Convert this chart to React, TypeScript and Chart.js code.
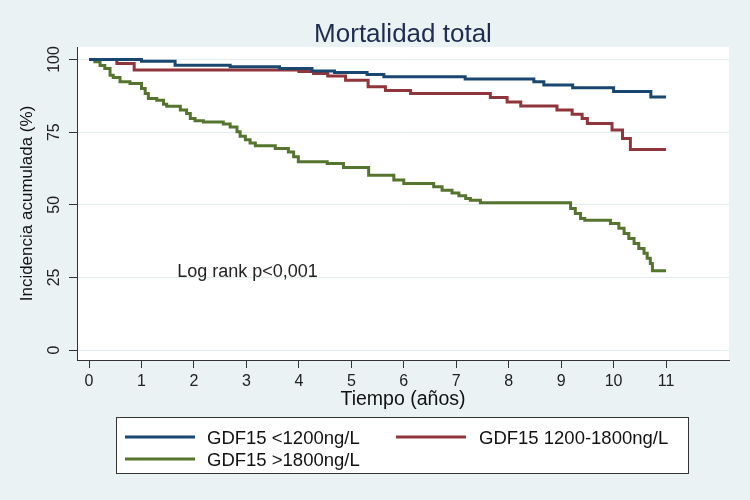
import React, { useEffect, useRef } from "react";
import { Chart, registerables } from "chart.js";

Chart.register(...registerables);

// ---- Data ----
const seriesLabels = ["GDF15 <1200ng/L", "GDF15 1200-1800ng/L", "GDF15 >1800ng/L"];
const seriesColors = ["#1A476F", "#90353B", "#55752F"];

const lowTimes = [0, 1.0, 1.64, 2.69, 3.63, 4.25, 4.68, 5.3, 5.62, 7.17, 8.48, 8.67, 9.22, 10.0, 10.71, 11.0];
const lowValues = [100, 99.4, 98.0, 97.5, 96.9, 96.0, 95.5, 94.8, 94.1, 93.3, 92.3, 91.2, 90.3, 89.0, 87.1, 87.1];

const midTimes = [0, 0.53, 0.86, 4.0, 4.28, 4.55, 4.89, 5.32, 5.65, 6.13, 7.65, 7.97, 8.23, 8.92, 9.21, 9.4, 9.5, 9.97, 10.17, 10.32, 11.0];
const midValues = [100, 98.6, 96.4, 95.9, 95.2, 94.3, 92.9, 90.6, 89.3, 88.3, 86.9, 85.4, 84.0, 82.6, 81.2, 79.7, 78.0, 75.7, 72.8, 69.0, 69.0];

const highTimes = [0, 0.11, 0.21, 0.3, 0.4, 0.46, 0.59, 0.78, 1.0, 1.07, 1.13, 1.29, 1.42, 1.48, 1.74, 1.86, 1.93, 2.02, 2.18, 2.56, 2.69, 2.82, 2.88, 2.98, 3.07, 3.17, 3.55, 3.8, 3.9, 3.99, 4.54, 4.85, 5.33, 5.81, 6.0, 6.57, 6.73, 6.92, 7.05, 7.18, 7.27, 7.46, 9.18, 9.27, 9.37, 9.45, 9.94, 10.1, 10.2, 10.29, 10.39, 10.48, 10.58, 10.64, 10.7, 10.74, 11.0];
const highValues = [100, 99.2, 97.9, 96.9, 94.6, 93.8, 92.3, 91.7, 90.0, 88.3, 86.6, 86.0, 84.6, 83.9, 82.6, 81.4, 79.7, 78.9, 78.5, 77.8, 76.8, 75.1, 73.6, 72.4, 71.3, 70.3, 69.4, 68.2, 66.5, 64.8, 64.2, 62.8, 60.2, 58.5, 57.3, 56.2, 55.0, 54.1, 53.1, 52.2, 51.6, 50.7, 48.7, 47.0, 45.3, 44.7, 43.6, 41.9, 40.1, 38.4, 36.7, 35.0, 33.3, 31.6, 29.8, 27.3, 27.3];

const xTickValues = [0, 1, 2, 3, 4, 5, 6, 7, 8, 9, 10, 11];
const yTickValues = [0, 25, 50, 75, 100];

const titleText = "Mortalidad total";
const xTitleText = "Tiempo (años)";
const yTitleText = "Incidencia acumulada (%)";
const noteText = "Log rank p<0,001";
const notePosition = { x: 1.68, y: 25 };

const FONT = '"Liberation Sans", Arial, Helvetica, sans-serif';
const BG = "#EAF2F3";

const toPoints = (ts: number[], vs: number[]) => ts.map((t, i) => ({ x: t, y: vs[i] }));

const decorPlugin = {
  id: "decor",
  beforeDraw(chart: any) {
    const { ctx, width, height, chartArea } = chart;
    ctx.save();
    ctx.fillStyle = BG;
    ctx.fillRect(0, 0, width, height);
    ctx.fillStyle = "#FFFFFF";
    ctx.fillRect(chartArea.left, chartArea.top, chartArea.right - chartArea.left, chartArea.bottom - chartArea.top);
    ctx.restore();
  },
  afterDraw(chart: any) {
    const { ctx, chartArea } = chart;
    const xs = chart.scales.x;
    const ys = chart.scales.y;
    const cx = (chartArea.left + chartArea.right) / 2;
    const cy = (chartArea.top + chartArea.bottom) / 2;
    ctx.save();
    // title
    ctx.fillStyle = "#1E2D4F";
    ctx.font = `26px ${FONT}`;
    ctx.textAlign = "center";
    ctx.textBaseline = "alphabetic";
    ctx.fillText(titleText, cx, 42);
    // x title
    ctx.fillStyle = "#111";
    ctx.font = `19.5px ${FONT}`;
    ctx.fillText(xTitleText, cx, 405);
    // y title
    ctx.save();
    ctx.translate(32, cy);
    ctx.rotate(-Math.PI / 2);
    ctx.font = `17px ${FONT}`;
    ctx.textAlign = "center";
    ctx.fillText(yTitleText, 0, 0);
    ctx.restore();
    // note
    ctx.font = `18px ${FONT}`;
    ctx.textAlign = "left";
    ctx.fillStyle = "#222";
    ctx.fillText(noteText, xs.getPixelForValue(notePosition.x), ys.getPixelForValue(notePosition.y) - 0.5);
    // legend
    const bx = 116.5, by = 417.5, bw = 572, bh = 56;
    ctx.fillStyle = "#FFFFFF";
    ctx.fillRect(bx, by, bw, bh);
    ctx.strokeStyle = "#333";
    ctx.lineWidth = 1;
    ctx.strokeRect(bx, by, bw, bh);
    const slots = [
      { lx: 125, tx: 207, y: 437 },
      { lx: 396, tx: 479, y: 437 },
      { lx: 125, tx: 207, y: 459 },
    ];
    chart.data.datasets.forEach((ds: any, i: number) => {
      const s = slots[i];
      ctx.strokeStyle = ds.borderColor;
      ctx.lineWidth = 3;
      ctx.beginPath();
      ctx.moveTo(s.lx, s.y);
      ctx.lineTo(s.lx + 70, s.y);
      ctx.stroke();
      ctx.fillStyle = "#111";
      ctx.font = `18.5px ${FONT}`;
      ctx.textAlign = "left";
      ctx.textBaseline = "alphabetic";
      ctx.fillText(ds.label, s.tx, s.y + 6.5);
    });
    ctx.restore();
  },
};

export default function App() {
  const ref = useRef<HTMLCanvasElement | null>(null);
  useEffect(() => {
    if (!ref.current) return;
    const chart = new Chart(ref.current, {
      type: "line",
      data: {
        datasets: [
          { label: seriesLabels[0], data: toPoints(lowTimes, lowValues), borderColor: seriesColors[0] },
          { label: seriesLabels[1], data: toPoints(midTimes, midValues), borderColor: seriesColors[1] },
          { label: seriesLabels[2], data: toPoints(highTimes, highValues), borderColor: seriesColors[2] },
        ].map((d) => ({ ...d, borderWidth: 3, pointRadius: 0, stepped: true, fill: false, tension: 0 })),
      },
      options: {
        animation: false,
        responsive: false,
        maintainAspectRatio: false,
        events: [],
        layout: { padding: { top: 47, right: 21, bottom: 0, left: 0 } },
        plugins: { legend: { display: false }, title: { display: false }, tooltip: { enabled: false } },
        scales: {
          x: {
            type: "linear",
            min: -0.23,
            max: 12.2,
            afterFit: (s: any) => { s.height = 140; },
            afterBuildTicks: (s: any) => { s.ticks = xTickValues.map((v) => ({ value: v })); },
            grid: { display: true, drawOnChartArea: false, drawTicks: true, tickLength: 8, color: "#333", tickColor: "#333" },
            border: { display: true, color: "#333", width: 1 },
            ticks: { font: { family: FONT, size: 16 }, color: "#222", padding: 4, maxRotation: 0, minRotation: 0, autoSkip: false },
          },
          y: {
            type: "linear",
            min: -3.4,
            max: 104.3,
            afterFit: (s: any) => { s.width = 77; },
            afterBuildTicks: (s: any) => { s.ticks = yTickValues.map((v) => ({ value: v })); },
            grid: { display: true, drawOnChartArea: true, drawTicks: true, tickLength: 8, color: "#E3ECEE", tickColor: "#333" },
            border: { display: true, color: "#333", width: 1 },
            ticks: { font: { family: FONT, size: 16 }, color: "#222", padding: 1, minRotation: 90, maxRotation: 90, crossAlign: "center", autoSkip: false },
          },
        },
      } as any,
      plugins: [decorPlugin],
    });
    return () => chart.destroy();
  }, []);
  return (
    <div style={{ position: "absolute", left: 0, top: 0, width: 750, height: 500, background: BG }}>
      <canvas ref={ref} width={750} height={500} style={{ width: 750, height: 500, display: "block" }} />
    </div>
  );
}
